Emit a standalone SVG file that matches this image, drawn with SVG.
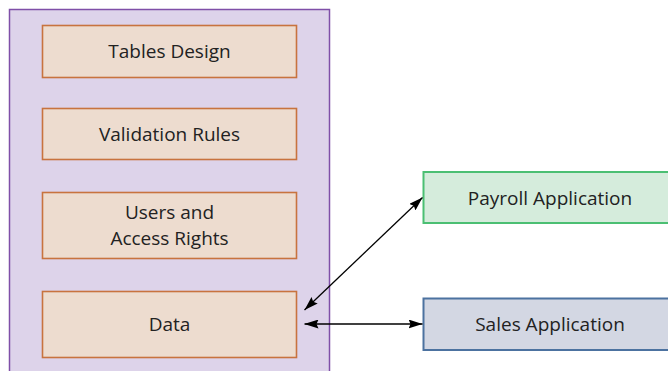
<svg xmlns="http://www.w3.org/2000/svg" width="668" height="371" viewBox="0 0 668 371">
<defs>
<marker id="ah" viewBox="0 0 14 9" refX="14" refY="4.5" markerWidth="14" markerHeight="9" markerUnits="userSpaceOnUse" orient="auto-start-reverse">
<path d="M0,0 L14,4.5 L0,9 L2,4.5 Z" fill="#000"/>
</marker>
<style>
.t{font-family:"Open Sans","Noto Sans","Liberation Sans",sans-serif;font-size:19px;fill:#222;text-anchor:middle}
.inner{fill:#eddccf;stroke:#c8733f;stroke-width:1.6}
.conn{stroke:#000;stroke-width:1.3;fill:none}
</style>
</defs>
<rect width="668" height="371" fill="#fff"/>
<g id="container">
<rect x="9.5" y="9.5" width="320" height="380" fill="#ddd3ea" stroke="#7f4fa8" stroke-width="1.5"/>
</g>
<g id="tables-design">
<rect class="inner" x="42.5" y="25.5" width="254" height="52"/>
<text class="t" x="169.5" y="58">Tables Design</text>
</g>
<g id="validation-rules">
<rect class="inner" x="42.5" y="108.5" width="254" height="51"/>
<text class="t" x="169.5" y="140.5">Validation Rules</text>
</g>
<g id="users-access">
<rect class="inner" x="42.5" y="192.5" width="254" height="66"/>
<text class="t" x="169.5" y="218.5">Users and</text>
<text class="t" x="169.5" y="244.5">Access Rights</text>
</g>
<g id="data">
<rect class="inner" x="42.5" y="291.5" width="254" height="66"/>
<text class="t" x="169.5" y="331">Data</text>
</g>
<g id="payroll">
<rect x="423.5" y="172" width="260" height="51" fill="#d5ecdc" stroke="#4bbf73" stroke-width="2"/>
<text class="t" x="550" y="204.5">Payroll Application</text>
</g>
<g id="sales">
<rect x="423.5" y="298.5" width="260" height="51.5" fill="#d3d7e3" stroke="#4c72a0" stroke-width="2"/>
<text class="t" x="550" y="331">Sales Application</text>
</g>
<g id="connectors">
<line class="conn" x1="304.5" y1="310" x2="422.5" y2="197.5" marker-start="url(#ah)" marker-end="url(#ah)"/>
<line class="conn" x1="304.5" y1="324" x2="422.5" y2="324" marker-start="url(#ah)" marker-end="url(#ah)"/>
</g>
</svg>
